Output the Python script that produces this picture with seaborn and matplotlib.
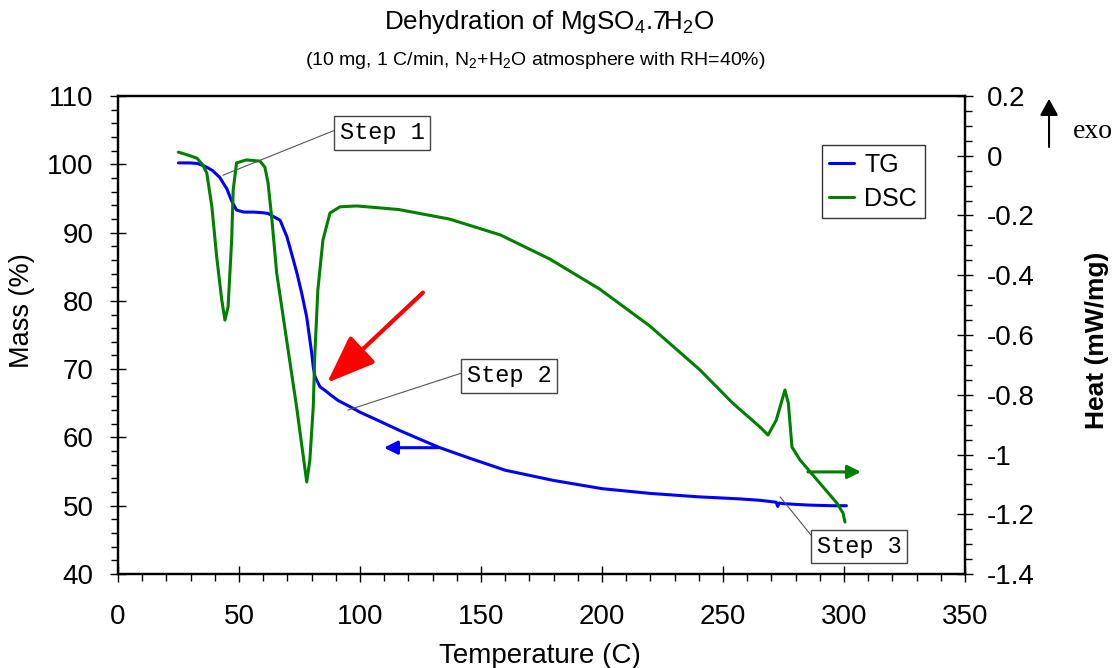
import matplotlib
matplotlib.use("Agg")
import matplotlib.pyplot as plt
import seaborn as sns
from matplotlib.ticker import MultipleLocator, FuncFormatter

# ---------------- data ----------------
tg_temp = [25, 30, 33, 36, 39, 42, 45, 47, 49, 52, 56, 60, 62, 64, 67, 69.8, 72, 74, 76, 78,
           80, 80.7, 81.4, 83.5, 85.5, 87.6, 91, 95.9, 100, 108, 116.5, 125, 133, 145, 160,
           180, 200, 220, 240, 257, 265, 270, 272, 272.6, 273.2, 275, 285, 295, 301]
tg_mass = [100.2, 100.2, 100.1, 99.7, 99.1, 98.1, 96.4, 94.6, 93.3, 93.0, 93.0, 92.9, 92.8,
           92.4, 91.8, 89.4, 86.6, 84.0, 81.0, 77.6, 72.5, 70.3, 68.9, 67.4, 66.9, 66.3,
           65.4, 64.5, 63.7, 62.4, 61.0, 59.7, 58.5, 57.0, 55.2, 53.7, 52.5, 51.8, 51.3,
           51.0, 50.8, 50.6, 50.5, 49.9, 50.4, 50.3, 50.1, 50.0, 50.0]

dsc_temp = [25, 29, 32.6, 35, 36.7, 38.8, 40.8, 42.9, 44.2, 45.5, 47.0, 47.6, 49, 53, 58.7,
            60.7, 62, 63.5, 65.6, 69.7, 73.8, 76.6, 78, 79.3, 80.7, 81.3, 82.6, 84.7, 87.6,
            91.7, 98.6, 116, 137, 158, 178.5, 199, 219.8, 240.5, 254, 265.3, 268.6, 272,
            275.6, 277, 278.5, 281.8, 286, 291.4, 297, 299.6, 300.4]
dsc_heat = [0.012, 0.002, -0.008, -0.03, -0.058, -0.17, -0.339, -0.483, -0.55, -0.506, -0.28,
            -0.115, -0.024, -0.014, -0.018, -0.038, -0.09, -0.205, -0.393, -0.617, -0.84,
            -1.008, -1.092, -1.018, -0.84, -0.674, -0.449, -0.282, -0.192, -0.171, -0.168,
            -0.18, -0.212, -0.265, -0.346, -0.446, -0.570, -0.717, -0.828, -0.908, -0.935,
            -0.885, -0.784, -0.828, -0.975, -1.018, -1.058, -1.109, -1.162, -1.196, -1.226]

series_labels = ["TG", "DSC"]
title = "Dehydration of MgSO$_4$.7H$_2$O"
subtitle = "(10 mg, 1 C/min, N$_2$+H$_2$O atmosphere with RH=40%)"
x_label = "Temperature (C)"
y_label = "Mass (%)"
y2_label = "Heat (mW/mg)"
step_labels = ["Step 1", "Step 2", "Step 3"]

# ---------------- style ----------------
sns.set_style("ticks", {"axes.edgecolor": "black", "text.color": "black",
                        "xtick.color": "black", "ytick.color": "black",
                        "axes.labelcolor": "black"})
plt.rcParams["font.family"] = ["Liberation Sans", "DejaVu Sans"]
plt.rcParams["mathtext.default"] = "regular"

fig = plt.figure(figsize=(11.16, 6.68), dpi=100)
ax = fig.add_axes([0.1057, 0.1407, 0.759, 0.7156])
ax2 = ax.twinx()

blue = "#0000FF"
green = "#008000"

sns.lineplot(x=tg_temp, y=tg_mass, ax=ax, color=blue, lw=2.2, label=series_labels[0],
             estimator=None, sort=False)
sns.lineplot(x=dsc_temp, y=dsc_heat, ax=ax2, color=green, lw=2.2, label=series_labels[1],
             estimator=None, sort=False)

ax.set_xlim(0, 350)
ax.set_ylim(40, 110)
ax2.set_ylim(-1.4, 0.2)

ax.xaxis.set_major_locator(MultipleLocator(50))
ax.xaxis.set_minor_locator(MultipleLocator(10))
ax.yaxis.set_major_locator(MultipleLocator(10))
ax.yaxis.set_minor_locator(MultipleLocator(2))
ax2.yaxis.set_major_locator(MultipleLocator(0.2))
ax2.yaxis.set_minor_locator(MultipleLocator(0.05))


def fmt2(v, pos):
    s = f"{round(v, 2):g}"
    if s == "-0":
        s = "0"
    return s


ax2.yaxis.set_major_formatter(FuncFormatter(fmt2))

for a in (ax, ax2):
    for sp in a.spines.values():
        sp.set_linewidth(1.6)
        sp.set_color("black")

ax.tick_params(axis="both", which="major", direction="inout", length=11, width=1,
               labelsize=20, pad=12)
ax.tick_params(axis="x", which="major", pad=16)
ax.tick_params(axis="both", which="minor", direction="out", length=5, width=1)
ax.tick_params(top=False, right=False, which="both")
ax2.tick_params(axis="y", which="major", direction="inout", length=11, width=1,
                labelsize=20, pad=10)
ax2.tick_params(axis="y", which="minor", direction="out", length=5, width=1)

ax.set_xlabel(x_label, fontsize=20)
ax.set_ylabel(y_label, fontsize=19.5)
ax2.set_ylabel(y2_label, fontsize=19, fontweight="bold")
ax.xaxis.set_label_coords(0.498, -0.145)
ax.yaxis.set_label_coords(-0.098, 0.552)
ax2.yaxis.set_label_coords(1.1417, 0.4895)

# legend
h1, l1 = ax.get_legend_handles_labels()
h2, l2 = ax2.get_legend_handles_labels()
if ax.get_legend() is not None:
    ax.get_legend().remove()
leg = ax2.legend(h1 + h2, l1 + l2, loc="upper left", bbox_to_anchor=(0.831, 0.897),
                 frameon=True, fancybox=False, edgecolor="#333333", framealpha=1,
                 fontsize=18, handlelength=1.0, borderpad=0.3, labelspacing=0.4,
                 handletextpad=0.4, borderaxespad=0)
leg.get_frame().set_linewidth(1.0)

# Step annotations (in mass/temperature coordinates)
box = dict(boxstyle="square,pad=0.22", fc="white", ec="#444444", lw=1)
line = dict(arrowstyle="-", color="#555555", lw=0.8, relpos=(0, 0.7), shrinkA=0, shrinkB=0)
for lab, xy, xyt in zip(step_labels,
                        [(43.4, 98.4), (95.0, 64.0), (273.6, 51.3)],
                        [(109.1, 104.6), (161.6, 69.0), (306.2, 44.0)]):
    ax2.annotate(lab, xy=xy, xytext=xyt, xycoords=ax.transData, textcoords=ax.transData,
                 ha="center", va="center", fontsize=17, family="Liberation Mono",
                 bbox=box, arrowprops=line, zorder=5)

# red arrow
ax2.annotate("", xy=(86.4, 68.0), xytext=(126, 81.2), xycoords=ax.transData,
             textcoords=ax.transData,
             arrowprops=dict(arrowstyle="-|>,head_length=3.0,head_width=1.15",
                             color="#FF0000", lw=3, shrinkA=0, shrinkB=0))
# blue arrow (TG -> left axis)
ax2.annotate("", xy=(109.9, 58.5), xytext=(132.2, 58.5), xycoords=ax.transData,
             textcoords=ax.transData,
             arrowprops=dict(arrowstyle="-|>,head_length=0.8,head_width=0.4",
                             color=blue, lw=2.2, shrinkA=0, shrinkB=0))
# green arrow (DSC -> right axis)
ax2.annotate("", xy=(307.0, 54.95), xytext=(285.1, 54.95), xycoords=ax.transData,
             textcoords=ax.transData,
             arrowprops=dict(arrowstyle="-|>,head_length=0.8,head_width=0.4",
                             color=green, lw=2.2, shrinkA=0, shrinkB=0))

# exo arrow
ax2.annotate("", xy=(0.94, 0.852), xytext=(0.94, 0.780), xycoords="figure fraction",
             textcoords="figure fraction", annotation_clip=False,
             arrowprops=dict(arrowstyle="-|>,head_length=1.0,head_width=0.55",
                             color="black", lw=1.5, shrinkA=0, shrinkB=0))
fig.text(0.9615, 0.8024, "exo", ha="left", va="center", fontsize=20,
         family="Liberation Serif")

fig.text(0.492, 0.967, title, ha="center", va="center", fontsize=18.7)
fig.text(0.480, 0.910, subtitle, ha="center", va="center", fontsize=14)

fig.savefig("out.png", dpi=100)
